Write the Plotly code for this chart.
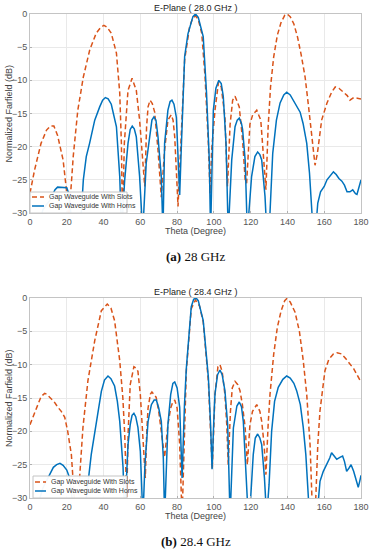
import plotly.graph_objects as go

# ---------------- data ----------------
theta_slots_a = [0, 2.5, 6, 9, 11, 13, 15, 18, 19.8, 21, 22.5, 23.5, 26, 29, 32.5, 36, 38.5, 40.2, 42, 44.2, 47, 48.8, 49.7, 50.3, 51.3, 53.3, 55.5, 57.8, 59.6, 61.4, 62.4, 63.4, 64.2, 65.3, 66.5, 67.8, 69.6, 71.4, 73.2, 75, 76.8, 77.8, 78.7, 80.5, 82.3, 84.1, 86.8, 88.5, 90, 91.5, 93.4, 95.2, 97, 97.9, 98.8, 100.6, 102.5, 104, 106, 107, 107.4, 108.8, 110.2, 111.5, 113.8, 115.6, 117, 117.8, 119.6, 121.1, 123.3, 125.5, 127.2, 128.3, 129.5, 130.8, 132.5, 134.5, 136.5, 138.5, 139.8, 141.5, 143.5, 145.5, 147.5, 149.6, 151.5, 153.3, 155, 156.3, 157.5, 158.6, 161.4, 164, 166, 168, 170.5, 172.5, 174, 176, 178, 180]
db_slots_a = [-27, -23.5, -19.5, -17.5, -16.9, -16.9, -18.3, -22, -26.5, -31, -25.5, -21.5, -14.5, -9.5, -5.4, -2.9, -2, -1.7, -2, -2.9, -5.9, -11.9, -19.5, -32, -19.5, -11.5, -9.7, -11.5, -16, -23, -26, -17, -14, -13, -13.5, -14.8, -20.5, -27.6, -20.5, -16, -15.2, -16, -18.5, -29, -17, -6.9, -1.9, -0.6, -0.3, -0.8, -2.9, -9.5, -19.5, -27, -20.5, -14.5, -10.3, -11, -15.5, -24.5, -26, -16.7, -13, -12.4, -14, -19, -25, -25.5, -16.6, -15.2, -14.5, -16, -22, -26.5, -17, -11, -6.5, -3.2, -1.3, -0.2, 0, -0.4, -1.5, -3.5, -6.2, -9.5, -14, -18.5, -22.8, -21, -18, -16, -13.5, -11.8, -11, -11.2, -11.8, -12.3, -13, -12.6, -12.7, -12.8]

theta_horns_a = [4, 7, 11, 13.6, 15, 18, 20, 21, 21.8, 23, 25, 27.9, 29, 30.6, 32.4, 35.2, 37.9, 39.5, 41, 42.5, 44.2, 46, 47, 48.8, 49.8, 51.5, 53.3, 54.5, 55.6, 56.7, 57.8, 59.6, 61.3, 63.2, 65.1, 66.3, 67.4, 68.5, 69.6, 71.4, 72.3, 73.2, 75, 76.2, 77.2, 78.3, 79.6, 80.5, 81.4, 82.3, 84.1, 85.9, 88.6, 90, 91.5, 94.2, 96, 97.5, 98.2, 99.7, 101.1, 102.7, 104, 105.1, 106.6, 107.8, 109.7, 111.5, 112.7, 113.8, 115, 115.6, 117, 118.2, 120.5, 122.3, 123.8, 125, 126, 127.8, 128.8, 130.5, 132, 134, 136, 138, 139.6, 141.5, 143.5, 146.9, 148.5, 150.5, 152, 153.3, 154, 155.5, 156.5, 158, 160, 161.5, 163, 165, 166.5, 168, 169.6, 171, 172.4, 174, 175.5, 177, 177.8, 179, 180]
db_horns_a = [-33, -29.5, -28, -26.5, -26.1, -26.2, -26.2, -27, -29.5, -32, -33, -30, -25, -21.5, -19.5, -16, -14, -13, -12.6, -12.8, -13.6, -15.5, -17, -24.5, -33, -25, -19.5, -17.4, -16.9, -17.3, -18.5, -24.5, -33, -22.5, -18.5, -16, -15.5, -16, -18.5, -24.5, -33, -19.5, -14.5, -13.2, -13, -13.6, -15.6, -22, -27.3, -20, -6.4, -3, -0.4, 0, -0.5, -3.4, -11.9, -22, -33, -14.5, -11.2, -10, -10.5, -12.4, -19.5, -33, -22, -17, -16, -15.7, -16.5, -17.4, -22, -33, -24.5, -21.5, -20.8, -21.2, -22, -27.5, -33, -30, -21, -16, -13.4, -12.2, -11.8, -12.2, -13.2, -14.8, -16.5, -19.5, -24, -30, -33, -32, -28.5, -26.8, -26, -25, -24.5, -23.8, -24.2, -24.8, -25.2, -25.8, -26.8, -26.8, -26.5, -27.1, -27.2, -26, -25]

theta_slots_b = [0, 2, 4, 6, 8, 9.5, 10.7, 13, 15.2, 17, 18.9, 20.5, 22.5, 24.3, 26, 27.5, 28.8, 31.5, 35.2, 38.8, 42, 44, 46, 48.8, 50.5, 51.5, 52.6, 53.4, 54.5, 56.5, 57.5, 58.7, 60, 61.4, 62.7, 63.5, 64.2, 65.5, 66.3, 67.5, 68.6, 70, 71.4, 73.2, 75, 76.5, 77.5, 78.7, 80, 81.4, 82.7, 83.7, 85, 87.7, 90, 92.2, 94.2, 97, 98.5, 99.1, 100.6, 102.2, 103.3, 104.5, 106, 107, 107.8, 109, 110, 111.5, 113, 114.2, 115.5, 117, 118.2, 119.6, 121, 123.3, 125, 126, 127.3, 128.3, 129.5, 130.5, 132.5, 134.5, 136.5, 138.5, 139.6, 141.5, 144.1, 146.5, 148.6, 150.5, 152.3, 153.7, 155, 156.5, 157.7, 160.4, 162.5, 165, 167, 169.5, 172, 174, 176, 178, 180]
db_slots_b = [-19, -17.5, -16, -14.8, -14.3, -14.5, -14.9, -15.5, -16.4, -17, -17.9, -20, -23.5, -31, -31, -24, -19.4, -12.4, -6.4, -1.9, -0.9, -1.5, -3.4, -9.4, -15, -20.4, -30, -20, -13, -10.3, -10.5, -11, -14.5, -20.9, -27, -20, -16.5, -14.4, -14.1, -14.5, -14.9, -17, -20.4, -23.9, -19, -16.5, -15.7, -15.3, -16.5, -22, -33, -22, -11, -1.6, -0.3, -1.2, -3.6, -12.5, -22, -25.7, -14.5, -10.3, -10, -11, -14.5, -19, -25, -17, -13.5, -12.5, -13, -13.9, -16, -19.4, -25, -19, -17, -16, -17, -18.5, -22, -26.5, -19, -14.5, -8.5, -4.4, -2, -0.4, -0.1, -0.6, -2.1, -5, -9.4, -14.5, -22, -33, -33, -22, -16.9, -10.9, -9.2, -8.4, -8.2, -8.4, -9.2, -9.9, -10.6, -11.6, -12.6]

theta_horns_b = [4, 5.4, 7, 9, 11, 12.7, 14.5, 16.3, 18, 20, 21.7, 23, 24, 29, 30.6, 33.3, 36, 38.8, 40.5, 42.4, 44, 46, 47.5, 48.8, 50.6, 51.5, 53.3, 54.5, 55.5, 56.5, 57.5, 58.7, 60, 61.4, 62.5, 64.2, 66, 67.5, 68.7, 70, 71.4, 72.5, 73.2, 75, 76.5, 77.7, 78.7, 80, 81.4, 82.7, 84, 85, 87.7, 89, 90.3, 91.5, 94.2, 97, 98.2, 99, 100, 100.6, 102, 103.3, 104.5, 106, 107.5, 108.8, 110.6, 112.5, 113.8, 115, 116, 117.5, 118.7, 120, 121.4, 122.5, 123.8, 125, 126, 127.5, 128.7, 130, 131.4, 133, 135, 137.5, 139.6, 141.5, 143.5, 145, 147, 148.6, 150, 151.4, 152.5, 156, 157.7, 159.5, 161.3, 163, 164, 165.5, 166.8, 168.5, 170, 171, 172.2, 173.5, 174.6, 176, 177.5, 178.5, 179.3, 180]
db_horns_b = [-33, -30, -28.5, -27.4, -26.2, -25.4, -25, -24.8, -25.1, -25.8, -27.1, -30, -33, -33, -30, -23.5, -18.5, -14, -12.3, -11.7, -12.1, -13.2, -15.5, -18.5, -25.4, -33, -22, -19, -17.6, -17.3, -17.8, -19.4, -23, -33, -25, -18.5, -16, -15.3, -15.3, -16.5, -18.5, -24, -33, -19, -14.5, -12.8, -12.6, -13.5, -16.4, -27, -16, -10.6, -1.3, -0.2, 0, -0.4, -3.4, -11.9, -19, -25.7, -18, -14.4, -11.5, -10.8, -11.5, -13.9, -19, -33, -19.5, -16.2, -15.6, -16.3, -18.5, -25, -33, -30, -23.5, -21, -20.4, -21, -22, -27, -33, -28, -20, -15.5, -13.4, -12.2, -11.7, -12, -12.8, -13.9, -16, -19.4, -23.5, -30, -33, -33, -27.5, -26, -25, -24, -23.2, -23.8, -24.2, -23.9, -23.7, -24.5, -26, -25.5, -25, -26, -27.5, -28.4, -27.5, -26.6]

series_names = ["Gap Waveguide With Slots", "Gap Waveguide With Horns"]
plot_titles = ["E-Plane ( 28.0 GHz )", "E-Plane ( 28.4 GHz )"]
captions = ["<b>(a)</b> 28 GHz", "<b>(b)</b> 28.4 GHz"]
x_ticks = [0, 20, 40, 60, 80, 100, 120, 140, 160, 180]
y_ticks = [-30, -25, -20, -15, -10, -5, 0]

# ---------------- figure ----------------
ORANGE = "#D95319"
BLUE = "#0072BD"
DASH = "5px,3px"
W, H = 374, 550
ML, MR = 30, 13
FONT = "Liberation Sans, Arial, sans-serif"
fig = go.Figure()


def py(px):  # pixel from top -> paper y
    return 1 - px / H


def pxx(px):  # pixel from left -> paper x
    return (px - ML) / (W - ML - MR)


panels = [
    dict(ts=theta_slots_a, ds=db_slots_a, th=theta_horns_a, dh=db_horns_a,
         xa="x", ya="y", top=14, bot=213, leg=(30, 127, 192, 213), rows=(197, 206), key=(32, 44)),
    dict(ts=theta_slots_b, ds=db_slots_b, th=theta_horns_b, dh=db_horns_b,
         xa="x2", ya="y2", top=298, bot=498, leg=(33, 127, 476, 498), rows=(482, 491), key=(35, 46)),
]

for p in panels:
    fig.add_trace(go.Scatter(x=p["ts"], y=p["ds"], mode="lines", name=series_names[0],
                             line=dict(color=ORANGE, width=1.5, dash=DASH),
                             xaxis=p["xa"], yaxis=p["ya"], showlegend=False))
    fig.add_trace(go.Scatter(x=p["th"], y=p["dh"], mode="lines", name=series_names[1],
                             line=dict(color=BLUE, width=1.5),
                             xaxis=p["xa"], yaxis=p["ya"], showlegend=False))

axis_common = dict(showgrid=True, gridcolor="#e9e9e9", gridwidth=1,
                   showline=True, linecolor="#c4c4c4", linewidth=1, mirror=True,
                   zeroline=False, ticks="inside", ticklen=2, tickcolor="#b0b0b0",
                   automargin=False,
                   tickfont=dict(family=FONT, size=9, color="#555555"))

layout = dict(width=W, height=H, margin=dict(l=ML, r=MR, t=0, b=0),
              paper_bgcolor="white", plot_bgcolor="white", showlegend=False)

for i, p in enumerate(panels):
    xkey = "xaxis" if i == 0 else "xaxis2"
    ykey = "yaxis" if i == 0 else "yaxis2"
    layout[xkey] = dict(axis_common, domain=[0, 1], range=[0, 180], tickvals=x_ticks,
                        anchor=p["ya"])
    layout[ykey] = dict(axis_common, domain=[py(p["bot"]), py(p["top"])], range=[-30, 0],
                        tickvals=y_ticks, anchor=p["xa"])

fig.update_layout(**layout)

ann = []
shapes = []
for i, p in enumerate(panels):
    top, bot = p["top"], p["bot"]
    mid = dict(xref="paper", yref="paper", showarrow=False, xanchor="center", yanchor="middle")
    ann.append(dict(mid, text=plot_titles[i], x=0.5, y=py(top - 6),
                    font=dict(family=FONT, size=9, color="#222222")))
    ann.append(dict(mid, text="Theta (Degree)", x=0.5, y=py(bot + 18),
                    font=dict(family=FONT, size=9, color="#444444")))
    ann.append(dict(mid, text="Normalized Farfield (dB)", x=pxx(9), y=py((top + bot) / 2),
                    textangle=-90, font=dict(family=FONT, size=9, color="#444444")))
    ann.append(dict(mid, text=captions[i], x=0.5, y=py(bot + 43),
                    font=dict(family="Liberation Serif, Times New Roman, serif", size=13, color="#111111")))
    # legend box (drawn manually for compact size)
    x0, x1, y0, y1 = p["leg"]
    shapes.append(dict(type="rect", xref="paper", yref="paper", x0=pxx(x0), x1=pxx(x1),
                       y0=py(y1), y1=py(y0), fillcolor="rgba(255,255,255,0.95)",
                       line=dict(color="#c4c4c4", width=1), layer="above"))
    k0, k1 = p["key"]
    for j, (col, dash) in enumerate([(ORANGE, DASH), (BLUE, "solid")]):
        ry = p["rows"][j]
        shapes.append(dict(type="line", xref="paper", yref="paper", x0=pxx(k0), x1=pxx(k1),
                           y0=py(ry), y1=py(ry), line=dict(color=col, width=1.5, dash=dash),
                           layer="above"))
        ann.append(dict(xref="paper", yref="paper", showarrow=False,
                        text=series_names[j], x=pxx(k1 + 3), y=py(ry),
                        xanchor="left", yanchor="middle",
                        font=dict(family=FONT, size=7, color="#333333")))

fig.update_layout(annotations=ann, shapes=shapes)

fig.write_html("out.html",
               config={"displayModeBar": False},
               post_script="document.body.style.margin='0';document.body.style.overflow='hidden';")
